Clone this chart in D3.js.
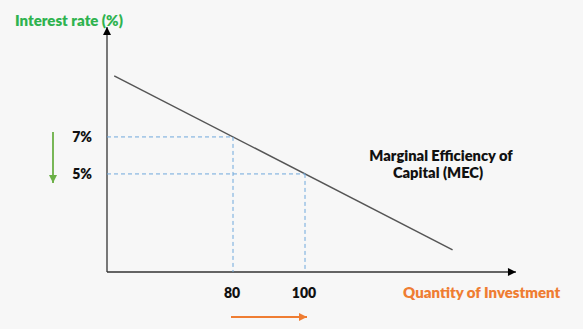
<!DOCTYPE html>
<html><head><meta charset="utf-8">
<script src="https://cdn.jsdelivr.net/npm/d3@7"></script>
<style>
html,body{margin:0;padding:0;background:#f7f7f7;}
svg{display:block;font-family:Lato,"Open Sans",sans-serif;font-weight:bold;}
</style></head>
<body><svg id="c" width="583" height="329"></svg>
<script>
// Data
const rateTicks = [7, 5];
const rateLabels = ["7%", "5%"];
const qtyTicks = [80, 100];
const qtyLabels = ["80", "100"];
const mecQty = [47, 141];
const mecRate = [10.3, 0.9];
const axisTitles = ["Interest rate (%)", "Quantity of Investment"];
const curveLabel = ["Marginal Efficiency of", "Capital (MEC)"];

const svg = d3.select("#c");
const x = d3.scaleLinear().domain([45, 160]).range([107, 521]);
const y = d3.scaleLinear().domain([-0.3, 13.4]).range([272, 18.5]);

const defs = svg.append("defs");
function marker(id, color, w, h) {
  defs.append("marker").attr("id", id).attr("viewBox", "0 0 10 10")
    .attr("refX", 10).attr("refY", 5).attr("markerUnits", "userSpaceOnUse")
    .attr("markerWidth", w).attr("markerHeight", h).attr("orient", "auto")
    .append("path").attr("d", "M0,0L10,5L0,10Z").attr("fill", color);
}
marker("ax", "#000", 9, 8);
marker("grn", "#6aaf45", 8, 8);
marker("org", "#ef7d32", 9, 8);

// axes
const x0 = x.domain()[0], y0 = y.domain()[0];
svg.append("line").attr("x1", x(x0)).attr("y1", y(y0)).attr("x2", x(x0)).attr("y2", y(12.94))
  .attr("stroke", "#333").attr("stroke-width", 1.3).attr("marker-end", "url(#ax)");
svg.append("line").attr("x1", x(x0)).attr("y1", y(y0)).attr("x2", x(158.6)).attr("y2", y(y0))
  .attr("stroke", "#333").attr("stroke-width", 1.3).attr("marker-end", "url(#ax)");

// MEC line
const mec = mecQty.map((q, i) => [q, mecRate[i]]);
svg.append("path").attr("d", d3.line().x(d => x(d[0])).y(d => y(d[1]))(mec))
  .attr("fill", "none").attr("stroke", "#555").attr("stroke-width", 1.5);

// guide lines
qtyTicks.forEach((q, i) => {
  const r = rateTicks[i];
  svg.append("line").attr("x1", x(x0)).attr("x2", x(q)).attr("y1", y(r)).attr("y2", y(r))
    .attr("stroke", "#6fa8dc").attr("stroke-dasharray", "4,3").attr("stroke-width", 1);
  svg.append("line").attr("x1", x(q)).attr("x2", x(q)).attr("y1", y(r)).attr("y2", y(y0))
    .attr("stroke", "#6fa8dc").attr("stroke-dasharray", "4,3").attr("stroke-width", 1);
});

// tick labels
rateTicks.forEach((r, i) => {
  svg.append("text").attr("x", 92).attr("y", y(r)).attr("dy", "0.35em")
    .attr("text-anchor", "end").attr("font-size", 14).attr("font-weight", 800).attr("fill", "#111").text(rateLabels[i]);
});
qtyTicks.forEach((q, i) => {
  svg.append("text").attr("x", x(q) - 1).attr("y", 298)
    .attr("text-anchor", "middle").attr("font-size", 14).attr("font-weight", 800).attr("fill", "#111").text(qtyLabels[i]);
});

// axis titles
svg.append("text").attr("x", 15).attr("y", 26).attr("font-size", 15).attr("font-weight", 800).attr("fill", "#2fb34f").text(axisTitles[0]);
svg.append("text").attr("x", 403).attr("y", 298).attr("font-size", 15).attr("font-weight", 800).attr("fill", "#ef7d32").text(axisTitles[1]);

// curve label
svg.append("text").attr("x", 441).attr("y", 161).attr("text-anchor", "middle")
  .attr("font-size", 14.7).attr("font-weight", 800).attr("fill", "#111").text(curveLabel[0]);
svg.append("text").attr("x", 438).attr("y", 178).attr("text-anchor", "middle")
  .attr("font-size", 14.7).attr("font-weight", 800).attr("fill", "#111").text(curveLabel[1]);

// direction arrows
svg.append("line").attr("x1", 53).attr("x2", 53).attr("y1", 132).attr("y2", 183)
  .attr("stroke", "#6aaf45").attr("stroke-width", 1.8).attr("marker-end", "url(#grn)");
svg.append("line").attr("x1", x(qtyTicks[0]) - 2).attr("x2", x(qtyTicks[1]) + 2).attr("y1", 317).attr("y2", 317)
  .attr("stroke", "#ef7d32").attr("stroke-width", 1.8).attr("marker-end", "url(#org)");
</script></body></html>
